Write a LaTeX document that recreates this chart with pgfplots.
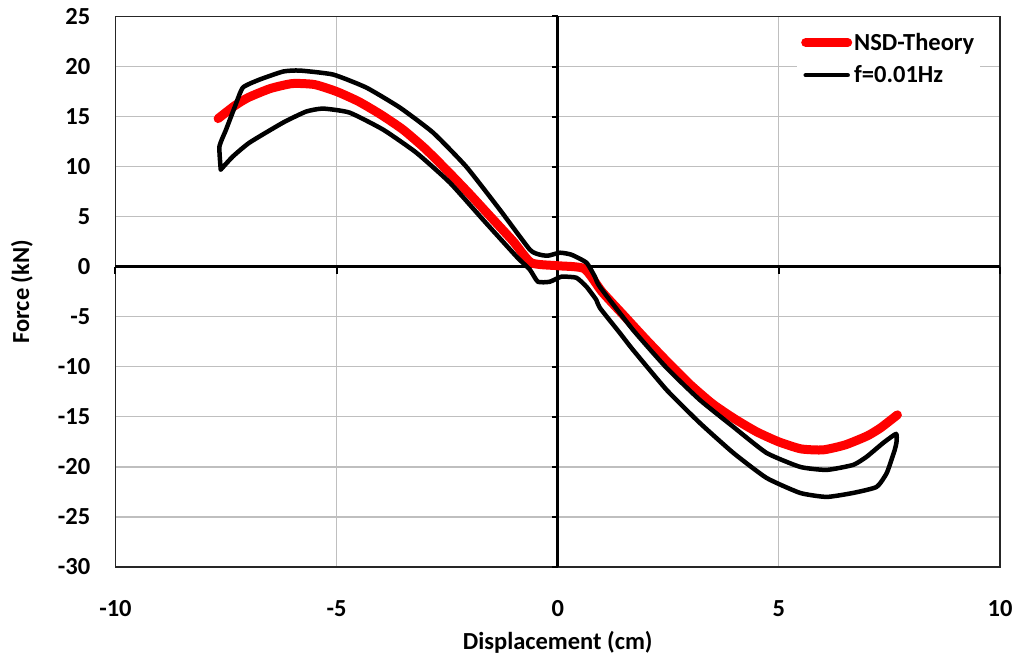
\documentclass[border=0pt]{standalone}
\usepackage{fontspec}
\setmainfont{Carlito}
\usepackage{pgfplots}
\pgfplotsset{compat=1.18}
\begin{document}
\begin{tikzpicture}
\begin{axis}[
  scale only axis,
  width=884.5pt, height=550.5pt,
  xmin=-10, xmax=10, ymin=-30, ymax=25,
  xtick={-10,-5,0,5,10},
  ytick={-30,-25,-20,-15,-10,-5,0,5,10,15,20,25},
  major tick length=0pt,
  grid=major,
  grid style={line width=1.2pt, color=black!25},
  axis line style={line width=1.5pt, black!85},
  /pgf/number format/assume math mode=true,
  ticklabel style={font=\fontsize{24.5}{29}\selectfont\bfseries},
  yticklabel style={anchor=east, inner sep=0pt, xshift=-25pt},
  xticklabel style={anchor=north, inner sep=0pt, yshift=-33pt},
  xlabel={Displacement (cm)},
  ylabel={Force (kN)},
  label style={font=\fontsize{24.5}{29}\selectfont\bfseries},
  xlabel style={at={(axis description cs:0.5,-0.1362)}, anchor=center},
  ylabel style={at={(axis description cs:-0.1057,0.5)}, anchor=center},
  legend cell align=left,
  legend style={at={(axis description cs:0.7705,0.9846)}, anchor=north west,
    draw=none, fill=white, font=\fontsize{24.5}{29}\selectfont\bfseries,
    inner xsep=4pt, inner ysep=6pt, row sep=10pt},
  legend image code/.code={\draw[#1] (0pt,0pt) -- (42pt,0pt);},
  clip=false,
]
% zero axes
\draw[line width=3pt, black] (axis cs:-10,0) -- (axis cs:10,0);
\draw[line width=3pt, black] (axis cs:0,-30) -- (axis cs:0,25);
\draw[line width=2pt] (axis cs:-10,0) -- ++(0pt,-7pt);
\draw[line width=2pt] (axis cs:-5,0) -- ++(0pt,-7pt);
\draw[line width=2pt] (axis cs:5,0) -- ++(0pt,-7pt);
\draw[line width=2pt] (axis cs:10,0) -- ++(0pt,-7pt);
\draw[line width=2pt] (axis cs:0,-30) -- ++(-6pt,0pt);
\draw[line width=2pt] (axis cs:0,-25) -- ++(-6pt,0pt);
\draw[line width=2pt] (axis cs:0,-20) -- ++(-6pt,0pt);
\draw[line width=2pt] (axis cs:0,-15) -- ++(-6pt,0pt);
\draw[line width=2pt] (axis cs:0,-10) -- ++(-6pt,0pt);
\draw[line width=2pt] (axis cs:0,-5) -- ++(-6pt,0pt);
\draw[line width=2pt] (axis cs:0,5) -- ++(-6pt,0pt);
\draw[line width=2pt] (axis cs:0,10) -- ++(-6pt,0pt);
\draw[line width=2pt] (axis cs:0,15) -- ++(-6pt,0pt);
\draw[line width=2pt] (axis cs:0,20) -- ++(-6pt,0pt);
\draw[line width=2pt] (axis cs:0,25) -- ++(-6pt,0pt);

\addplot[red, line width=9pt, line join=round, line cap=round, smooth, tension=0.35] coordinates {
(-7.68,14.8) (-7.3,16.1) (-7.0,16.9) (-6.5,17.8) (-6.0,18.3) (-5.5,18.2) (-5.0,17.5)
(-4.5,16.5) (-4.0,15.2) (-3.5,13.7) (-3.0,11.8) (-2.5,9.6) (-2.0,7.3) (-1.5,4.9)
(-1.0,2.5) (-0.6,0.4) (0,0.1) (0.6,-0.2) (1.0,-2.5) (1.5,-4.9) (2.0,-7.3) (2.5,-9.6)
(3.0,-11.8) (3.5,-13.7) (4.0,-15.2) (4.5,-16.5) (5.0,-17.5) (5.5,-18.2) (6.0,-18.3)
(6.5,-17.8) (7.0,-16.9) (7.3,-16.1) (7.68,-14.8)
};
\addlegendentry{NSD-Theory}

\addplot[black, line width=4.5pt, line join=round, line cap=round, smooth, tension=0.3] coordinates {
(-7.62,9.7) (-7.65,12.0) (-7.5,13.7) (-7.3,16.0) (-7.12,17.9) (-6.74,18.7) (-6.21,19.5)
(-5.84,19.6) (-5.08,19.2) (-4.33,17.9) (-3.57,15.9) (-2.82,13.4) (-2.07,10.0)
(-1.31,5.7) (-0.63,1.7) (-0.4,1.2) (-0.22,1.1) (0.05,1.4) (0.31,1.2) (0.65,0.4)
(0.84,-1.0) (0.95,-2.0) (1.7,-6.3) (2.46,-10.1) (3.21,-13.3) (3.97,-16.0) (4.72,-18.6)
(5.48,-20.0) (6.08,-20.3) (6.68,-19.8) (6.98,-19.0) (7.36,-17.6) (7.65,-16.7)
(7.66,-17.5) (7.62,-18.3) (7.44,-20.6) (7.21,-22.0) (6.68,-22.6) (6.08,-23.0)
(5.48,-22.6) (4.72,-21.1) (3.97,-18.6) (3.21,-15.6) (2.46,-12.3) (1.7,-8.3) (1.4,-6.6)
(0.95,-4.1) (0.87,-3.3) (0.65,-2.0) (0.42,-1.1) (0.08,-1.0) (-0.18,-1.5) (-0.45,-1.5)
(-0.63,-0.3) (-0.93,1.0) (-1.69,4.7) (-2.44,8.4) (-3.2,11.4) (-3.95,13.7) (-4.71,15.4)
(-5.31,15.8) (-5.69,15.5) (-6.21,14.4) (-6.97,12.4) (-7.35,11.0) (-7.62,9.7)
};
\addlegendentry{f=0.01Hz}

\coordinate (SW) at (rel axis cs:0,0);
\coordinate (NE) at (rel axis cs:1,1);
\end{axis}
\pgfresetboundingbox
\path[use as bounding box] ([shift={(-115.5pt,-97pt)}]SW) rectangle ([shift={(21pt,16.5pt)}]NE);
\end{tikzpicture}
\end{document}
